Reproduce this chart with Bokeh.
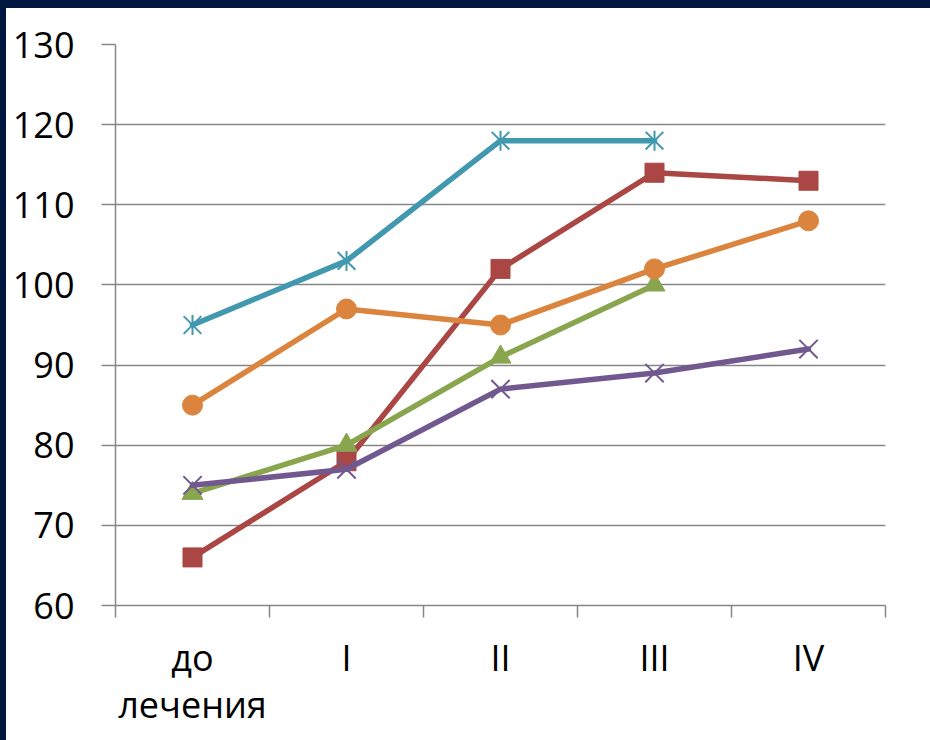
import numpy as np
from bokeh.plotting import figure
from bokeh.models import Range1d, FixedTicker
from bokeh.embed import file_html
from bokeh.resources import INLINE

# Stages of treatment and the measured values per group
categories = ["до\nлечения", "I", "II", "III", "IV"]
teal_values = [95, 103, 118, 118, np.nan]
red_values = [66, 78, 102, 114, 113]
orange_values = [85, 97, 95, 102, 108]
green_values = [74, 80, 91, 100, np.nan]
purple_values = [75, 77, 87, 89, 92]
y_ticks = [60, 70, 80, 90, 100, 110, 120, 130]

NAVY = "#00173F"
GRID = "#868686"
FONT = "Open Sans"

x_pos = np.arange(len(categories)) + 0.5

p = figure(width=924, height=732, output_backend="svg", toolbar_location=None,
           x_range=Range1d(0, len(categories)), y_range=Range1d(y_ticks[0], y_ticks[-1]),
           min_border_left=109, min_border_right=51, min_border_top=36, min_border_bottom=143)
p.outline_line_color = None
p.background_fill_color = "white"
p.border_fill_color = "white"
# dark slide frame along the top and left edges
p.styles = {"border-top": f"8px solid {NAVY}", "border-left": f"6px solid {NAVY}",
            "box-sizing": "content-box"}

# x axis: labels at category centres, tick marks at band boundaries
xa = p.xaxis[0]
xa.ticker = FixedTicker(ticks=list(x_pos), minor_ticks=list(range(len(categories) + 1)))
xa.major_label_overrides = {float(x): lbl for x, lbl in zip(x_pos, categories)}
xa.major_tick_out = 0
xa.major_tick_in = 0
xa.minor_tick_out = 12
xa.minor_tick_in = 0
xa.minor_tick_line_color = GRID
xa.minor_tick_line_width = 1.5
xa.axis_line_color = GRID
xa.axis_line_width = 1.5
xa.major_label_text_font = FONT
xa.major_label_text_font_size = "36px"
xa.major_label_text_color = "black"
xa.major_label_text_line_height = 0.97
xa.major_label_standoff = 15
xa.major_label_orientation = "horizontal"

ya = p.yaxis[0]
ya.ticker = FixedTicker(ticks=y_ticks)
ya.major_tick_out = 14
ya.major_tick_in = 0
ya.major_tick_line_color = GRID
ya.major_tick_line_width = 1.5
ya.minor_tick_line_color = None
ya.axis_line_color = GRID
ya.axis_line_width = 1.5
ya.major_label_text_font = FONT
ya.major_label_text_font_size = "36px"
ya.major_label_text_color = "black"
ya.major_label_standoff = 27

p.xgrid.grid_line_color = None
p.ygrid.ticker = FixedTicker(ticks=y_ticks)
p.ygrid.grid_line_color = GRID
p.ygrid.grid_line_width = 1.5

LW = 5.5

def series(vals, color):
    p.line(x_pos, vals, line_color=color, line_width=LW, line_join="round", line_cap="round")

# red squares
series(red_values, "#AA4643")
p.scatter(x_pos, red_values, marker="square", size=19, fill_color="#AA4643", line_color="#AA4643")

# green triangles
series(green_values, "#89A54E")
p.scatter(x_pos, green_values, marker="triangle", size=21, fill_color="#89A54E", line_color="#89A54E")

# purple crosses
series(purple_values, "#71588F")
p.scatter(x_pos, purple_values, marker="x", size=26, line_color="#71588F", line_width=2)

# teal stars (cross + vertical bar)
series(teal_values, "#4198AF")
p.scatter(x_pos, teal_values, marker="x", size=25, line_color="#4198AF", line_width=2)
p.scatter(x_pos, teal_values, marker="dash", size=20, angle=np.pi / 2, line_color="#4198AF", line_width=2)

# orange circles
series(orange_values, "#DB843D")
p.scatter(x_pos, orange_values, marker="circle", size=20, fill_color="#DB843D", line_color="#DB843D")

open("out.html", "w").write(file_html(p, INLINE))
